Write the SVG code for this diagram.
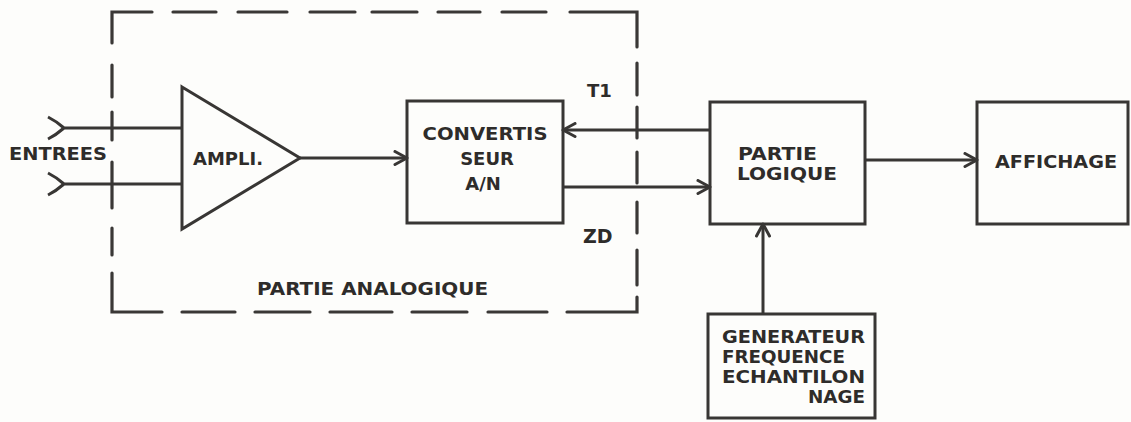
<svg xmlns="http://www.w3.org/2000/svg" width="1131" height="422" viewBox="0 0 1131 422">
<style>
.ln{stroke:#383634;stroke-width:3;fill:none;stroke-linecap:butt}
.box{stroke:#383634;stroke-width:3;fill:#fdfdfb}
.dash{stroke:#3a3836;stroke-width:3.2;fill:none;stroke-linecap:round;stroke-linejoin:miter}
.t{font-family:"DejaVu Sans","Liberation Sans",Arial,sans-serif;font-weight:bold;font-size:18px;fill:#2e2c2a}
.c{text-anchor:middle}
</style>
<defs>
<marker id="arr" viewBox="0 0 16 16" refX="14" refY="8" markerWidth="16" markerHeight="16" markerUnits="userSpaceOnUse" orient="auto">
<path d="M2,1.5 L14,8 L2,14.5" fill="none" stroke="#383634" stroke-width="3" stroke-linejoin="round" stroke-linecap="round"/>
</marker>
</defs>
<rect width="1131" height="422" fill="#fdfdfb"/>

<g id="partie-analogique">
<path class="dash" d="M112,43 V12 H152 M173,12 H216 M238,12 H287 M310,12 H355 M372,12 H417 M438,12 H480 M502,12 H546 M570,12 H637 V47
M112,65 V97 M112,112 V140 M112,162 V208 M112,228 V255 M112,273 V312 H162 M182,312 H235 M255,312 H310 M330,312 H392 M412,312 H467 M488,312 H547 M567,312 H637 V297
M637,63 V95 M637,107 V138 M637,152 V183 M637,202 V233 M637,250 V285"/>
<text class="t" x="257" y="295" textLength="231" lengthAdjust="spacingAndGlyphs">PARTIE ANALOGIQUE</text>
</g>

<g id="entrees">
<text class="t" x="9" y="160" textLength="98" lengthAdjust="spacingAndGlyphs">ENTREES</text>
</g>

<g id="ampli">
<path class="box" d="M182,87 L300,158 L182,229 Z"/>
<text class="t" x="193" y="165" textLength="70" lengthAdjust="spacingAndGlyphs" style="font-size:17px">AMPLI.</text>
</g>

<g id="convertisseur">
<rect class="box" x="407" y="101" width="156" height="122"/>
<text class="t c" x="485" y="140" textLength="125" lengthAdjust="spacingAndGlyphs">CONVERTIS</text>
<text class="t c" x="487" y="165">SEUR</text>
<text class="t c" x="483" y="190">A/N</text>
</g>

<g id="partie-logique">
<rect class="box" x="710" y="102" width="155" height="122"/>
<text class="t" x="738" y="160" textLength="79" lengthAdjust="spacingAndGlyphs">PARTIE</text>
<text class="t" x="737" y="180" textLength="100" lengthAdjust="spacingAndGlyphs">LOGIQUE</text>
</g>

<g id="affichage">
<rect class="box" x="977" y="102" width="151" height="122"/>
<text class="t" x="995" y="168" textLength="122" lengthAdjust="spacingAndGlyphs">AFFICHAGE</text>
</g>

<g id="generateur">
<rect class="box" x="708" y="314" width="167" height="104"/>
<text class="t" x="722" y="343" textLength="143" lengthAdjust="spacingAndGlyphs" style="font-size:17px">GENERATEUR</text>
<text class="t" x="722" y="363" textLength="123" lengthAdjust="spacingAndGlyphs" style="font-size:17px">FREQUENCE</text>
<text class="t" x="722" y="383" textLength="143" lengthAdjust="spacingAndGlyphs" style="font-size:17px">ECHANTILON</text>
<text class="t" x="808" y="403" textLength="57" lengthAdjust="spacingAndGlyphs" style="font-size:17px">NAGE</text>
</g>

<g id="connectors">
<path class="ln" d="M48,117 Q56,121 64,128 Q56,135 48,139 M64,128 H182"/>
<path class="ln" d="M48,173 Q56,177 64,184 Q56,191 48,195 M64,184 H182"/>
<path class="ln" d="M300,158 H407" marker-end="url(#arr)"/>
<path class="ln" d="M710,130 H563" marker-end="url(#arr)"/>
<path class="ln" d="M563,187 H710" marker-end="url(#arr)"/>
<path class="ln" d="M865,160 H977" marker-end="url(#arr)"/>
<path class="ln" d="M763,314 V224" marker-end="url(#arr)"/>
<text class="t" x="587" y="97">T1</text>
<text class="t" x="583" y="243" style="font-size:19px">ZD</text>
</g>
</svg>
